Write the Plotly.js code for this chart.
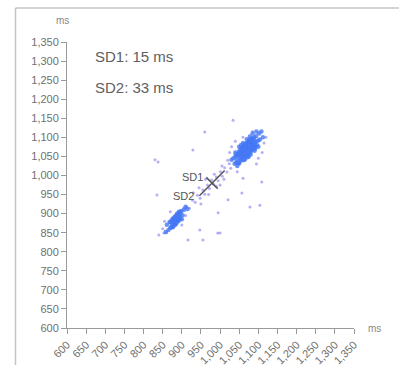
<!DOCTYPE html>
<html>
<head>
<meta charset="utf-8">
<script src="https://cdn.plot.ly/plotly-3.0.1.min.js"></script>
<style>
  html, body { margin: 0; padding: 0; background: #fff; }
  #chart { width: 399px; height: 365px; }
</style>
</head>
<body>
<div id="chart"></div>
<script>
// ---- data ----
const tickVals = [600, 650, 700, 750, 800, 850, 900, 950, 1000, 1050, 1100, 1150, 1200, 1250, 1300, 1350];
const tickText = ["600", "650", "700", "750", "800", "850", "900", "950", "1,000", "1,050", "1,100", "1,150", "1,200", "1,250", "1,300", "1,350"];

// main cluster (RRn, RRn+1), ms
const mainX = [1062,1068,1055,1071,1074,1059,1080,1066,1049,1077,1085,1063,1058,1070,1091,1052,1064,1073,1081,1060,1045,1069,1076,1088,1057,1067,1072,1054,1083,1061,1078,1065,1050,1094,1070,1062,1086,1056,1075,1068,1041,1079,1064,1097,1053,1071,1060,1082,1066,1073,1047,1089,1058,1069,1077,1063,1038,1084,1072,1055,1092,1067,1061,1080,1074,1051,1065,1087,1059,1070,1044,1076,1100,1062,1068,1035,1083,1057,1071,1090,1066,1048,1079,1063,1073,1056,1095,1069,1060,1081,1042,1075,1064,1086,1052,1072,1067,1030,1078,1061,1104,1070,1058,1084,1065,1046,1077,1093,1062,1054,1074,1068,1088,1040,1069,1108,1102,1112,1071,1066,1075,1063,1079,1058,1082,1050,1060,1070,1080,1090,1045,1100,1055,1085,1075,1040,1095,1065,1078,1092];
const mainY = [1052,1082,1041,1060,1089,1068,1063,1075,1063,1059,1097,1042,1074,1051,1074,1038,1079,1084,1096,1049,1056,1058,1093,1070,1064,1050,1061,1071,1066,1078,1067,1060,1032,1103,1085,1071,1079,1049,1064,1053,1054,1092,1049,1079,1064,1076,1040,1075,1083,1055,1032,1100,1053,1066,1074,1058,1031,1093,1048,1060,1087,1063,1058,1084,1070,1056,1068,1082,1054,1073,1041,1083,1092,1065,1071,1045,1080,1050,1068,1081,1064,1055,1077,1068,1070,1062,1089,1075,1065,1088,1034,1078,1059,1069,1047,1078,1069,1041,1085,1067,1094,1065,1067,1089,1055,1051,1068,1077,1059,1057,1081,1063,1095,1049,1072,1115,1110,1100,1062,1078,1066,1073,1070,1066,1072,1075,1085,1095,1055,1065,1025,1075,1080,1110,1050,1060,1115,1042,1102,1070];

// second cluster
const lowX = [885,878,892,881,889,874,896,883,887,870,899,880,891,876,886,893,868,882,888,879,895,884,872,890,877,902,886,881,894,875,889,865,883,897,880,887,871,892,884,878,906,886,874,890,882,861,893,879,888,884,910,915,858,900];
const lowY = [891,866,902,891,879,884,890,871,897,862,907,888,887,864,888,905,878,878,900,883,885,882,864,882,887,896,874,875,898,877,893,857,887,905,872,891,877,882,894,880,910,882,868,896,884,871,895,871,886,880,918,912,852,885];

// sparse beats (bridge and outliers)
const sparseX = [912,920,928,935,941,948,955,960,967,972,978,983,990,995,1001,1006,1012,1018,1024,1028,945,962,985,1005,970,990,1010,1020,950,930,1000,830,960,929,1104,1109,1057,995,955,1000,916,840,853,835,838,1078,1021,947,994,1100,1110,1040,1030,1115,1050,1095,1025,1085,1060,1045,1120,855,870,900,910,860,905,850,1034,1060];
const sparseY = [918,914,935,930,948,940,962,951,975,966,988,977,996,986,1010,998,1020,1009,1031,1019,968,990,1003,1025,950,972,990,1040,925,955,975,1041,1114,1067,922,983,954,902,831,849,831,844,849,949,1035,917,936,857,849,1045,1060,1090,1075,1085,1030,1030,1060,1115,1100,1010,1100,880,905,870,895,850,915,860,1145,993];

// Poincaré descriptors
const sd1 = 15;
const sd2 = 33;
const meanRR = [979, 980];

// ---- chart ----
const FONT = 'Liberation Sans, Arial, sans-serif';
const cx = meanRR[0], cy = meanRR[1];
const traces = [
  { type: 'scatter', mode: 'markers', x: sparseX, y: sparseY, hoverinfo: 'skip',
    marker: { size: 3, color: 'rgba(120,110,235,0.55)' } },
  { type: 'scatter', mode: 'markers', x: lowX, y: lowY, hoverinfo: 'skip',
    marker: { size: 4.5, color: 'rgba(70,120,245,0.8)' } },
  { type: 'scatter', mode: 'markers', x: mainX, y: mainY, hoverinfo: 'skip',
    marker: { size: 4.5, color: 'rgba(70,120,245,0.8)' } },
  { type: 'scatter', mode: 'lines', hoverinfo: 'skip',
    x: [cx - sd2, cx + sd2], y: [cy - sd2, cy + sd2],
    line: { color: '#555', width: 1.5 } },
  { type: 'scatter', mode: 'lines', hoverinfo: 'skip',
    x: [cx - sd1, cx + sd1], y: [cy + sd1, cy - sd1],
    line: { color: '#555', width: 1.5 } }
];

const axisCommon = {
  range: [600, 1350], tickmode: 'array', tickvals: tickVals, ticktext: tickText,
  showgrid: false, zeroline: false, showline: true, linecolor: '#9a9a9a', linewidth: 1,
  ticks: 'outside', ticklen: 5, tickcolor: '#9a9a9a', tickwidth: 1,
  tickfont: { family: FONT, size: 11, color: '#707070' },
  fixedrange: true
};

// frame position in pixels -> paper units
const L = 67, T = 42, W = 287, H = 286;
const fx = (15.5 - L) / W, fy = (H + T - 8) / H;

const layout = {
  width: 399, height: 365,
  margin: { l: L, r: 399 - L - W, t: T, b: 365 - T - H },
  paper_bgcolor: '#fff', plot_bgcolor: '#fff',
  showlegend: false,
  xaxis: Object.assign({}, axisCommon, { tickangle: -45 }),
  yaxis: Object.assign({}, axisCommon),
  shapes: [
    { type: 'line', xref: 'paper', yref: 'paper', x0: fx, x1: fx, y0: -0.5, y1: fy,
      line: { color: '#c4c4c4', width: 1.5 } },
    { type: 'line', xref: 'paper', yref: 'paper', x0: fx, x1: 1.5, y0: fy, y1: fy,
      line: { color: '#c4c4c4', width: 1.5 } }
  ],
  annotations: [
    { xref: 'paper', yref: 'paper', x: 0, y: 1.0, xshift: -5, yshift: 22, xanchor: 'center', yanchor: 'middle',
      text: 'ms', showarrow: false, font: { family: FONT, size: 10, color: '#888' } },
    { xref: 'paper', yref: 'paper', x: 1.0, y: 0, xshift: 12, xanchor: 'left', yanchor: 'middle',
      text: 'ms', showarrow: false, font: { family: FONT, size: 10, color: '#888' } },
    { xref: 'paper', yref: 'paper', x: 0.09, y: 0.95, xanchor: 'left', yanchor: 'middle',
      text: 'SD1: ' + sd1 + ' ms', showarrow: false, font: { family: FONT, size: 15, color: '#606060' } },
    { xref: 'paper', yref: 'paper', x: 0.09, y: 0.84, xanchor: 'left', yanchor: 'middle',
      text: 'SD2: ' + sd2 + ' ms', showarrow: false, font: { family: FONT, size: 15, color: '#606060' } },
    { x: cx - sd1, y: cy + sd1, xanchor: 'right', yanchor: 'middle', xshift: -1,
      text: 'SD1', showarrow: false, font: { family: FONT, size: 11, color: '#555' } },
    { x: cx - sd2, y: cy - sd2, xanchor: 'right', yanchor: 'middle', xshift: -3,
      text: 'SD2', showarrow: false, font: { family: FONT, size: 11, color: '#555' } }
  ]
};

Plotly.newPlot('chart', traces, layout, { displayModeBar: false, staticPlot: true });
</script>
</body>
</html>
